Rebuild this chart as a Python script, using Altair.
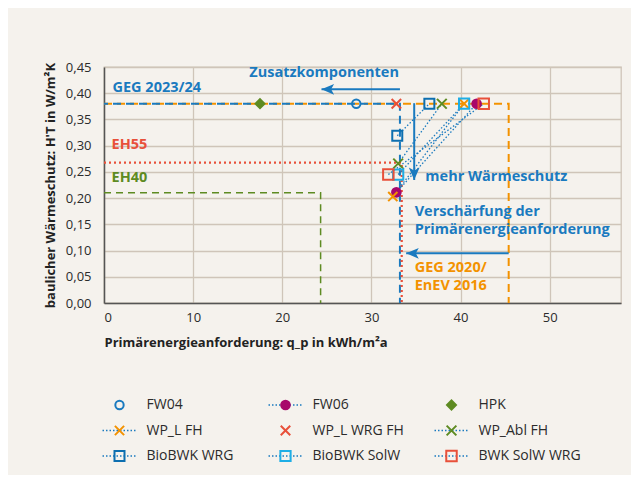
import altair as alt
import pandas as pd

# ---------------- data ----------------
series = ["FW04", "FW06", "FW06", "HPK", "WP_L FH", "WP_L FH", "WP_L WRG FH",
          "WP_Abl FH", "WP_Abl FH", "BioBWK WRG", "BioBWK WRG",
          "BioBWK SolW", "BioBWK SolW", "BWK SolW WRG", "BWK SolW WRG"]
qp = [28.3, 41.8, 32.8, 17.5, 40.4, 32.4, 32.8,
      37.9, 33.0, 36.5, 32.9,
      40.4, 33.0, 42.6, 31.9]
ht = [0.38, 0.38, 0.211, 0.38, 0.38, 0.203, 0.38,
      0.38, 0.266, 0.38, 0.319,
      0.38, 0.245, 0.38, 0.245]

legend_names = ["FW04", "FW06", "HPK",
                "WP_L FH", "WP_L WRG FH", "WP_Abl FH",
                "BioBWK WRG", "BioBWK SolW", "BWK SolW WRG"]
legend_has_line = [False, True, False, True, False, True, True, True, True]

ref_names = ["GEG 2020/EnEV 2016", "GEG 2023/24", "EH55", "EH40"]
ref_qp = [45.4, 33.2, 33.4, 24.3]
ref_ht = [0.38, 0.38, 0.2675, 0.21]

ann_text = ["GEG 2023/24", "EH55", "EH40", "Zusatzkomponenten", "mehr Wärmeschutz",
            "Verschärfung der", "Primärenergieanforderung", "GEG 2020/", "EnEV 2016"]
ann_qp = [0.95, 0.85, 0.85, 16.3, 36.05, 34.85, 34.85, 34.85, 34.85]
ann_ht = [0.41, 0.301, 0.238, 0.4386, 0.241, 0.174, 0.139, 0.066, 0.0324]
ann_kind = ["blue", "red", "green", "blue", "blue", "blue", "blue", "orange", "orange"]

arrow_qp = [33.2, 34.8, 45.4]
arrow_ht = [0.4075, 0.381, 0.0948]
arrow_qp2 = [24.4, 34.8, 33.9]
arrow_ht2 = [0.4075, 0.2345, 0.0948]
arrow_dir = ["left", "down", "left"]

x_ticks = [0, 10, 20, 30, 40, 50]
y_ticks = [0, 0.05, 0.10, 0.15, 0.20, 0.25, 0.30, 0.35, 0.40, 0.45]

# ---------------- styles ----------------
FONT = "Open Sans"
BG = "#f5f2ed"
GRID = "#cfc5b9"
BLUE = "#1a7abf"
ORANGE = "#f39200"
RED = "#e8503a"
GREEN = "#5e8b22"
MAGENTA = "#a8076b"
LBLUE = "#1eaee6"
DBLUE = "#0d6fb0"

X_PATH = "M-1,-1L1,1M-1,1L1,-1"
shape_map = {"FW04": "circle", "FW06": "circle", "HPK": "diamond",
             "WP_L FH": X_PATH, "WP_L WRG FH": X_PATH, "WP_Abl FH": X_PATH,
             "BioBWK WRG": "square", "BioBWK SolW": "square", "BWK SolW WRG": "square"}
stroke_map = {"FW04": BLUE, "FW06": MAGENTA, "HPK": GREEN,
              "WP_L FH": ORANGE, "WP_L WRG FH": RED, "WP_Abl FH": GREEN,
              "BioBWK WRG": DBLUE, "BioBWK SolW": LBLUE, "BWK SolW WRG": RED}
fill_map = {"FW04": "transparent", "FW06": MAGENTA, "HPK": GREEN,
            "WP_L FH": "transparent", "WP_L WRG FH": "transparent", "WP_Abl FH": "transparent",
            "BioBWK WRG": "transparent", "BioBWK SolW": "transparent", "BWK SolW WRG": "transparent"}
size_map = {"FW04": 70, "FW06": 110, "HPK": 150,
            "WP_L FH": 40, "WP_L WRG FH": 40, "WP_Abl FH": 40,
            "BioBWK WRG": 110, "BioBWK SolW": 110, "BWK SolW WRG": 110}
kind_color = {"blue": BLUE, "red": RED, "green": GREEN, "orange": ORANGE}
ref_style = {
    "GEG 2020/EnEV 2016": dict(color=ORANGE, strokeDash=[8, 5], strokeWidth=2),
    "GEG 2023/24": dict(color=BLUE, strokeDash=[8, 5], strokeDashOffset=4, strokeWidth=2),
    "EH55": dict(color=RED, strokeDash=[2, 3], strokeWidth=2.2),
    "EH40": dict(color=GREEN, strokeDash=[7, 5], strokeWidth=1.5),
}
arrow_paths = {"left": "M0,0L2.1,-0.9L1.6,0L2.1,0.9Z", "down": "M0,0L-0.9,-2.1L0,-1.6L0.9,-2.1Z"}

names = legend_names
shape_enc = alt.Shape("series:N", scale=alt.Scale(domain=names, range=[shape_map[n] for n in names]), legend=None)
stroke_enc = alt.Stroke("series:N", scale=alt.Scale(domain=names, range=[stroke_map[n] for n in names]), legend=None)
fill_enc = alt.Fill("series:N", scale=alt.Scale(domain=names, range=[fill_map[n] for n in names]), legend=None)
size_enc = alt.Size("series:N", scale=alt.Scale(domain=names, range=[size_map[n] for n in names]), legend=None)

# ---------------- tables ----------------
pts = pd.DataFrame({"series": series, "qp": qp, "ht": ht, "idx": range(len(series))})
line_series = [n for n, h in zip(legend_names, legend_has_line) if h]

ref_rows = []
for n, xq, yh in zip(ref_names, ref_qp, ref_ht):
    ref_rows += [{"ref": n, "o": 0, "qp": 0, "ht": yh},
                 {"ref": n, "o": 1, "qp": xq, "ht": yh},
                 {"ref": n, "o": 2, "qp": xq, "ht": 0}]
refs = pd.DataFrame(ref_rows)

ann = pd.DataFrame({"text": ann_text, "qp": ann_qp, "ht": ann_ht,
                    "col": [kind_color[k] for k in ann_kind]})
arr = pd.DataFrame({"qp": arrow_qp, "ht": arrow_ht, "qp2": arrow_qp2, "ht2": arrow_ht2,
                    "path": [arrow_paths[d] for d in arrow_dir]})

leg = pd.DataFrame({"series": legend_names, "has_line": legend_has_line,
                    "col": [i % 3 for i in range(len(legend_names))],
                    "row": [i // 3 for i in range(len(legend_names))]})

# ---------------- scales / axes ----------------
xs = alt.Scale(domain=[0, 58], nice=False, zero=False)
ys = alt.Scale(domain=[0, 0.45], nice=False)

AX = alt.Axis(values=x_ticks, grid=True, title="Primärenergieanforderung: q_p in kWh/m²a",
              titleAnchor="start", titlePadding=12, labelPadding=8)
AY = alt.Axis(values=y_ticks, grid=True, title="baulicher Wärmeschutz: H'T in W/m²K",
              labelExpr="replace(format(datum.value, '.2f'), '.', ',')",
              labelPadding=13, titlePadding=8)


def X(f):
    return alt.X(f, scale=xs, axis=AX)


def Y(f):
    return alt.Y(f, scale=ys, axis=AY)


ref_layers = []
for n in ref_names:
    st = ref_style[n]
    ref_layers.append(
        alt.Chart(refs).transform_filter(alt.datum.ref == n).mark_line(strokeCap="butt", **st).encode(
            x=X("qp:Q"), y=Y("ht:Q"), order="o:Q",
        )
    )

conn = alt.Chart(pts).transform_filter(
    alt.FieldOneOfPredicate(field="series", oneOf=line_series)
).mark_line(color=BLUE, strokeDash=[1.5, 2], strokeWidth=1.3).encode(
    x=X("qp:Q"), y=Y("ht:Q"), detail="series:N", order="qp:Q",
)

points = alt.Chart(pts).mark_point(strokeWidth=2, opacity=1).encode(
    x=X("qp:Q"), y=Y("ht:Q"),
    shape=shape_enc, stroke=stroke_enc, fill=fill_enc, size=size_enc,
    order="idx:Q",
)

arrow_lines = alt.Chart(arr).mark_rule(color=BLUE, strokeWidth=2).encode(
    x=X("qp:Q"), y=Y("ht:Q"), x2="qp2:Q", y2="ht2:Q",
)
arrow_heads = alt.Chart(arr).mark_point(filled=True, color=BLUE, size=144, opacity=1, strokeWidth=0).encode(
    x=X("qp2:Q"), y=Y("ht2:Q"), shape=alt.Shape("path:N", scale=None),
)

texts = alt.Chart(ann).mark_text(align="left", baseline="middle", font=FONT, fontSize=14.5,
                                 fontWeight="bold").encode(
    x=X("qp:Q"), y=Y("ht:Q"), text="text:N", color=alt.Color("col:N", scale=None),
)

main = alt.layer(*ref_layers, conn, arrow_lines, arrow_heads, points, texts)

# ---------------- legend ----------------
lx = alt.Scale(domain=[0, 2], range=[15.5, 347.5], nice=False, zero=False)
ly = alt.Scale(domain=[0, 2], range=[338, 389], nice=False, zero=False)

leg_lines = alt.Chart(leg).transform_filter(alt.datum.has_line).mark_rule(
    color=BLUE, strokeDash=[1.5, 2], strokeWidth=1.3, xOffset=-17, x2Offset=17).encode(
    x=alt.X("col:Q", scale=lx, axis=None), x2="col:Q",
    y=alt.Y("row:Q", scale=ly, axis=None),
)
leg_pts = alt.Chart(leg).mark_point(strokeWidth=2, opacity=1).encode(
    x=alt.X("col:Q", scale=lx, axis=None), y=alt.Y("row:Q", scale=ly, axis=None),
    shape=shape_enc, stroke=stroke_enc, fill=fill_enc, size=size_enc,
)
leg_txt = alt.Chart(leg).mark_text(align="left", baseline="middle", dx=27, font=FONT,
                                   fontSize=14, color="#2b2b2b").encode(
    x=alt.X("col:Q", scale=lx, axis=None), y=alt.Y("row:Q", scale=ly, axis=None),
    text="series:N",
)
legend = alt.layer(leg_lines, leg_pts, leg_txt)

chart = alt.layer(main, legend).resolve_scale(x="independent", y="independent").properties(
    width=517, height=236,
    autosize=alt.AutoSizeParams(type="none"),
    padding={"left": 96, "top": 59, "right": 10, "bottom": 172},
).configure(
    background=BG,
    font=FONT,
).configure_view(
    stroke=GRID, strokeWidth=1.3,
).configure_axis(
    gridColor=GRID, gridWidth=1.3, domainColor="#555555", domainWidth=1.5,
    ticks=False, labelFont=FONT, labelFontSize=13, labelColor="#2b2b2b",
    titleFont=FONT, titleFontSize=13, titleFontWeight="bold", titleColor="#222222",
)

chart.save("out.html", embed_options={"renderer": "svg", "actions": False})
